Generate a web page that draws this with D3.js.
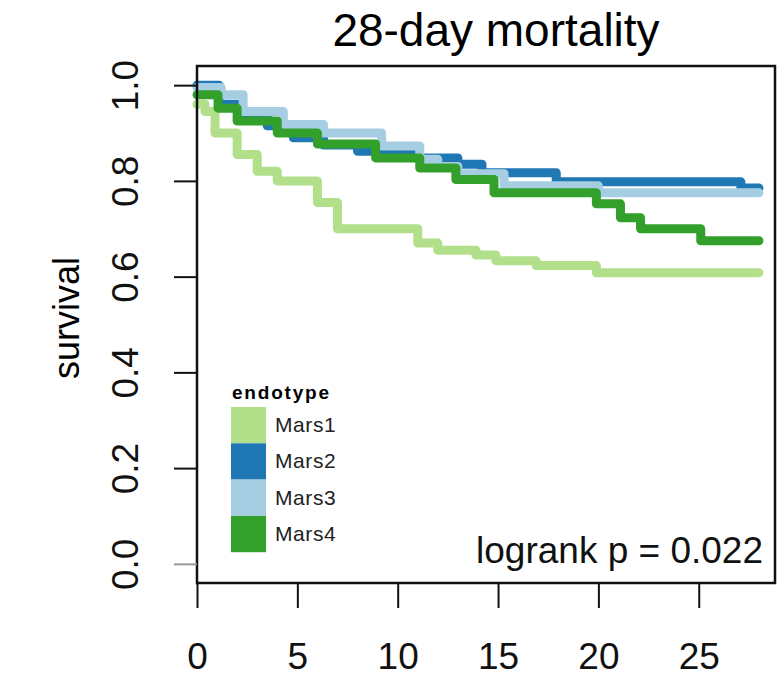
<!DOCTYPE html>
<html>
<head>
<meta charset="utf-8">
<script src="https://cdn.jsdelivr.net/npm/d3@7"></script>
<style>
  body { margin: 0; background: #fff; }
  svg { font-family: "Liberation Sans", Arial, sans-serif; }
</style>
</head>
<body>
<svg width="778" height="678"></svg>
<script>
// Kaplan-Meier steps: time where each step starts, survival after it
const endotypes = ['Mars1', 'Mars2', 'Mars3', 'Mars4'];
const colors = ['#b2df8a', '#1f78b4', '#a6cee3', '#33a02c'];

const mars1Time = [0, 0.4, 0.9, 2.0, 3.0, 4.0, 6.0, 7.0, 11.0, 12.0, 13.9, 14.9, 16.9, 19.9, 28];
const mars1Surv = [0.96, 0.945, 0.90, 0.855, 0.82, 0.80, 0.755, 0.70, 0.67, 0.655, 0.645, 0.633, 0.623, 0.608, 0.608];

const mars2Time = [0, 1.1, 2.2, 3.5, 4.8, 6.3, 8.0, 9.5, 11.1, 13.0, 14.2, 17.9, 27.1, 28];
const mars2Surv = [1.0, 0.96, 0.935, 0.915, 0.89, 0.875, 0.862, 0.855, 0.848, 0.835, 0.817, 0.798, 0.785, 0.785];

const mars3Time = [0, 1.2, 2.3, 4.3, 6.3, 9.2, 11.1, 12.0, 13.0, 15.3, 20.0, 28];
const mars3Surv = [0.995, 0.98, 0.945, 0.918, 0.90, 0.873, 0.845, 0.83, 0.815, 0.79, 0.775, 0.775];

const mars4Time = [0, 1.05, 2.0, 4.0, 6.0, 8.9, 11.1, 12.9, 14.8, 19.9, 21.1, 22.1, 25.1, 28];
const mars4Surv = [0.98, 0.952, 0.925, 0.90, 0.877, 0.848, 0.827, 0.803, 0.775, 0.752, 0.723, 0.70, 0.675, 0.675];

const xTicks = [0, 5, 10, 15, 20, 25];
const yTicks = [0, 0.2, 0.4, 0.6, 0.8, 1.0];

const series = [
  { name: endotypes[0], time: mars1Time, surv: mars1Surv },
  { name: endotypes[1], time: mars2Time, surv: mars2Surv },
  { name: endotypes[2], time: mars3Time, surv: mars3Surv },
  { name: endotypes[3], time: mars4Time, surv: mars4Surv },
];

const svg = d3.select('svg');
const box = { left: 197, right: 775, top: 66, bottom: 583 };

const x = d3.scaleLinear().domain([0, 28.8]).range([box.left, box.right]);
const y = d3.scaleLinear().domain([-0.04, 1.04]).range([box.bottom, box.top]);

// title
svg.append('text')
  .attr('x', 496).attr('y', 46)
  .attr('text-anchor', 'middle')
  .attr('font-size', 46)
  .text('28-day mortality');

// curves
const line = d3.line()
  .x(d => x(d[0]))
  .y(d => y(d[1]))
  .curve(d3.curveStepAfter);

svg.append('g').selectAll('path').data(series)
  .enter().append('path')
  .attr('d', s => line(d3.zip(s.time, s.surv)))
  .attr('fill', 'none')
  .attr('stroke', (s, i) => colors[i])
  .attr('stroke-width', 9)
  .attr('stroke-linecap', 'round')
  .attr('stroke-linejoin', 'round');

// box
svg.append('rect')
  .attr('x', box.left).attr('y', box.top)
  .attr('width', box.right - box.left).attr('height', box.bottom - box.top)
  .attr('fill', 'none')
  .attr('stroke', '#111')
  .attr('stroke-width', 2.5);

// x axis
const xAxisG = svg.append('g')
  .attr('transform', `translate(0, ${box.bottom})`)
  .call(d3.axisBottom(x).tickValues(xTicks).tickSize(25).tickFormat(d3.format('d')));
xAxisG.select('.domain').remove();
xAxisG.selectAll('.tick line').attr('stroke', '#111').attr('stroke-width', 2);
xAxisG.selectAll('.tick text')
  .attr('y', 86).attr('dy', null)
  .attr('font-size', 37)
  .attr('font-family', '"Liberation Sans", Arial, sans-serif')
  .attr('fill', '#111');

// y axis
const yAxisG = svg.append('g')
  .attr('transform', `translate(${box.left}, 0)`)
  .call(d3.axisLeft(y).tickValues(yTicks).tickSize(23).tickFormat(d3.format('.1f')));
yAxisG.select('.domain').remove();
yAxisG.selectAll('.tick line')
  .attr('stroke', d => d === 0 ? '#999' : '#111')
  .attr('stroke-width', 2);
yAxisG.selectAll('.tick text')
  .attr('x', null).attr('dy', null)
  .attr('text-anchor', 'middle')
  .attr('transform', 'translate(-59, 0) rotate(-90)')
  .attr('font-size', 37)
  .attr('font-family', '"Liberation Sans", Arial, sans-serif')
  .attr('fill', '#111');

// y label
svg.append('text')
  .attr('transform', 'translate(79, 318) rotate(-90)')
  .attr('text-anchor', 'middle')
  .attr('font-size', 36)
  .text('survival');

// legend
const legend = svg.append('g').attr('transform', 'translate(231, 407)');
legend.append('text')
  .attr('x', 1).attr('y', -8)
  .attr('font-size', 19)
  .attr('font-weight', 'bold')
  .attr('letter-spacing', 1.8)
  .text('endotype');
const rowH = 36.3;
const rows = legend.selectAll('g.row').data(endotypes)
  .enter().append('g')
  .attr('class', 'row')
  .attr('transform', (d, i) => `translate(0, ${i * rowH})`);
rows.append('rect')
  .attr('width', 35).attr('height', rowH)
  .attr('fill', (d, i) => colors[i]);
rows.append('text')
  .attr('x', 44).attr('y', rowH / 2 + 7)
  .attr('font-size', 21)
  .attr('letter-spacing', 0.6)
  .attr('fill', '#222')
  .text(d => d);

// logrank annotation
svg.append('text')
  .attr('x', 763).attr('y', 563)
  .attr('text-anchor', 'end')
  .attr('font-size', 37)
  .attr('fill', '#111')
  .text('logrank p = 0.022');
</script>
</body>
</html>
